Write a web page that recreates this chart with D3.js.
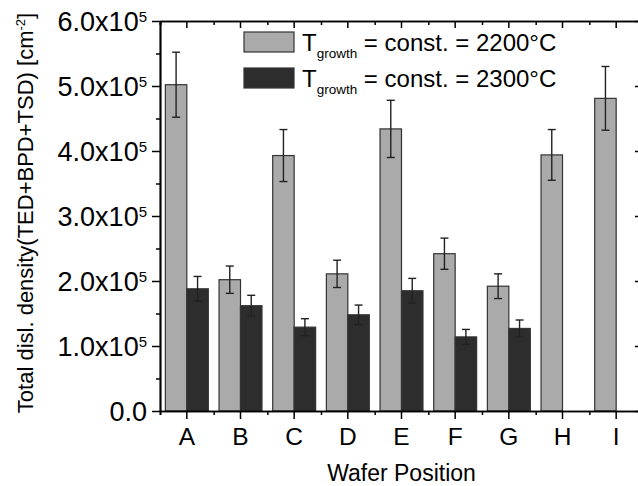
<!DOCTYPE html>
<html>
<head>
<meta charset="utf-8">
<script src="https://cdn.jsdelivr.net/npm/d3@7"></script>
<style>
  body { margin: 0; background: #fff; }
  svg, svg text { font-family: "Liberation Sans", Arial, sans-serif; }
  svg { display: block; }
</style>
</head>
<body>
<div id="chart-container"></div>
<script>
// Wafer positions and the two growth temperatures
const positions = ["A", "B", "C", "D", "E", "F", "G", "H", "I"];
const seriesNames = ["2200", "2300"];

// Dislocation density [cm^-2], null = not measured
const density2200 = [5.02e5, 2.02e5, 3.93e5, 2.11e5, 4.34e5, 2.42e5, 1.92e5, 3.94e5, 4.81e5];
const error2200 = [0.50e5, 0.21e5, 0.40e5, 0.21e5, 0.44e5, 0.24e5, 0.19e5, 0.39e5, 0.49e5];
const density2300 = [1.88e5, 1.62e5, 1.29e5, 1.48e5, 1.85e5, 1.14e5, 1.27e5, null, null];
const error2300 = [0.19e5, 0.16e5, 0.13e5, 0.15e5, 0.19e5, 0.115e5, 0.13e5, null, null];

const yTicks = [0, 1e5, 2e5, 3e5, 4e5, 5e5, 6e5];
const yTickLabels = ["0.0", "1.0x10", "2.0x10", "3.0x10", "4.0x10", "5.0x10", "6.0x10"];

(() => {
  const margin = { top: 21, right: -5, bottom: 75, left: 160 };
  const width = 638 - margin.left - margin.right;
  const height = 486 - margin.top - margin.bottom;
  const font = "'Liberation Sans', Arial, sans-serif";

  const svg = d3.select("#chart-container")
    .append("svg")
    .attr("width", 638)
    .attr("height", 486)
    .append("g")
    .attr("transform", `translate(${margin.left},${margin.top})`);

  const data = positions.map((p, i) => ({
    pos: p,
    vals: [
      { s: "2200", v: density2200[i], e: error2200[i] },
      { s: "2300", v: density2300[i], e: error2300[i] }
    ].filter(d => d.v != null)
  }));

  const x = d3.scaleBand().domain(positions).range([0, width]).padding(0);
  const xSub = d3.scaleBand().domain(seriesNames)
    .range([x.bandwidth() * 0.1, x.bandwidth() * 0.9]);
  const xLin = d3.scaleLinear().domain([0, positions.length]).range([0, width]);
  const y = d3.scaleLinear().domain([0, 6e5]).range([height, 0]);

  const fill = { "2200": "#aaaaaa", "2300": "#2d2d2d" };

  // bars
  const groups = svg.selectAll(".grp")
    .data(data)
    .enter().append("g")
    .attr("transform", d => `translate(${x(d.pos)},0)`);

  groups.selectAll("rect")
    .data(d => d.vals)
    .enter().append("rect")
    .attr("x", d => xSub(d.s))
    .attr("y", d => y(d.v))
    .attr("width", xSub.bandwidth())
    .attr("height", d => height - y(d.v))
    .attr("fill", d => fill[d.s])
    .attr("stroke", "#333")
    .attr("stroke-width", 1.2);

  // error bars
  const eb = groups.selectAll(".err")
    .data(d => d.vals)
    .enter().append("g")
    .attr("stroke", "#222")
    .attr("stroke-width", 1.4);
  const cx = d => xSub(d.s) + xSub.bandwidth() / 2;
  eb.append("line")
    .attr("x1", cx).attr("x2", cx)
    .attr("y1", d => y(d.v + d.e)).attr("y2", d => y(d.v - d.e));
  eb.append("line")
    .attr("x1", d => cx(d) - 4).attr("x2", d => cx(d) + 4)
    .attr("y1", d => y(d.v + d.e)).attr("y2", d => y(d.v + d.e));
  eb.append("line")
    .attr("x1", d => cx(d) - 4).attr("x2", d => cx(d) + 4)
    .attr("y1", d => y(d.v - d.e)).attr("y2", d => y(d.v - d.e));

  const minorY = d3.range(0.5e5, 6e5, 1e5);
  const minorX = d3.range(0, positions.length + 1);

  function styleAxis(g) {
    g.attr("font-family", font);
    g.select(".domain").attr("stroke", "#000").attr("stroke-width", 1.7);
    g.selectAll(".tick line").attr("stroke", "#000").attr("stroke-width", 1.5);
  }

  // bottom axis
  svg.append("g")
    .attr("transform", `translate(0,${height})`)
    .call(d3.axisBottom(xLin).tickValues(minorX).tickSize(4).tickFormat(""))
    .call(styleAxis);
  const xAxisG = svg.append("g")
    .attr("transform", `translate(0,${height})`)
    .call(d3.axisBottom(x).tickSize(8).tickSizeOuter(0))
    .call(styleAxis);
  xAxisG.selectAll("text")
    .attr("y", 34).attr("dy", 0)
    .attr("fill", "#000")
    .style("font-size", "24.5px");

  // top axis (inward ticks)
  svg.append("g")
    .call(d3.axisTop(xLin).tickValues(minorX).tickSize(-4).tickFormat(""))
    .call(styleAxis);
  svg.append("g")
    .call(d3.axisTop(x).tickSize(-7).tickSizeOuter(0).tickFormat(""))
    .call(styleAxis);

  // left axis
  svg.append("g")
    .call(d3.axisLeft(y).tickValues(minorY).tickSize(4).tickSizeOuter(0).tickFormat(""))
    .call(styleAxis);
  const yAxisG = svg.append("g")
    .call(d3.axisLeft(y).tickValues(yTicks).tickSize(8).tickSizeOuter(0).tickFormat(""))
    .call(styleAxis);
  yAxisG.selectAll(".tick").each(function (d, i) {
    const t = d3.select(this).append("text")
      .attr("x", -13)
      .attr("dy", "0.35em")
      .attr("text-anchor", "end")
      .attr("fill", "#000")
      .style("font-size", "27px");
    t.append("tspan").text(yTickLabels[i]);
    if (d !== 0) {
      t.append("tspan")
        .attr("dy", -8.5)
        .style("font-size", "15px")
        .text("5");
    }
  });

  // right axis (inward ticks)
  svg.append("g")
    .attr("transform", `translate(${width},0)`)
    .call(d3.axisRight(y).tickValues(minorY).tickSize(-4).tickSizeOuter(0).tickFormat(""))
    .call(styleAxis);
  svg.append("g")
    .attr("transform", `translate(${width},0)`)
    .call(d3.axisRight(y).tickValues(yTicks).tickSize(-8).tickSizeOuter(0).tickFormat(""))
    .call(styleAxis);

  // axis titles
  svg.append("text")
    .attr("x", width / 2)
    .attr("y", height + 70)
    .attr("text-anchor", "middle")
    .style("font-size", "23px")
    .text("Wafer Position");

  const yt = svg.append("text")
    .attr("transform", "rotate(-90)")
    .attr("x", -height / 2 + 3)
    .attr("y", -margin.left + 33)
    .attr("text-anchor", "middle")
    .style("font-size", "22px");
  yt.append("tspan").text("Total disl. density(TED+BPD+TSD) [cm");
  yt.append("tspan").attr("dy", -8).style("font-size", "13px").text("-2");
  yt.append("tspan").attr("dy", 8).text("]");

  // legend
  const legend = svg.append("g").attr("transform", "translate(84,11)");
  seriesNames.forEach((s, i) => {
    const row = legend.append("g").attr("transform", `translate(0,${i * 36})`);
    row.append("rect")
      .attr("width", 50).attr("height", 20)
      .attr("fill", fill[s])
      .attr("stroke", "#333").attr("stroke-width", 1.2);
    const t = row.append("text")
      .attr("x", 58).attr("y", 18.5)
      .style("font-size", "24px");
    t.append("tspan").text("T");
    t.append("tspan").attr("dy", 7.6).style("font-size", "13.5px").text("growth");
    t.append("tspan").attr("dy", -7.6).text(` = const. = ${s}°C`);
  });
})();
</script>
</body>
</html>
